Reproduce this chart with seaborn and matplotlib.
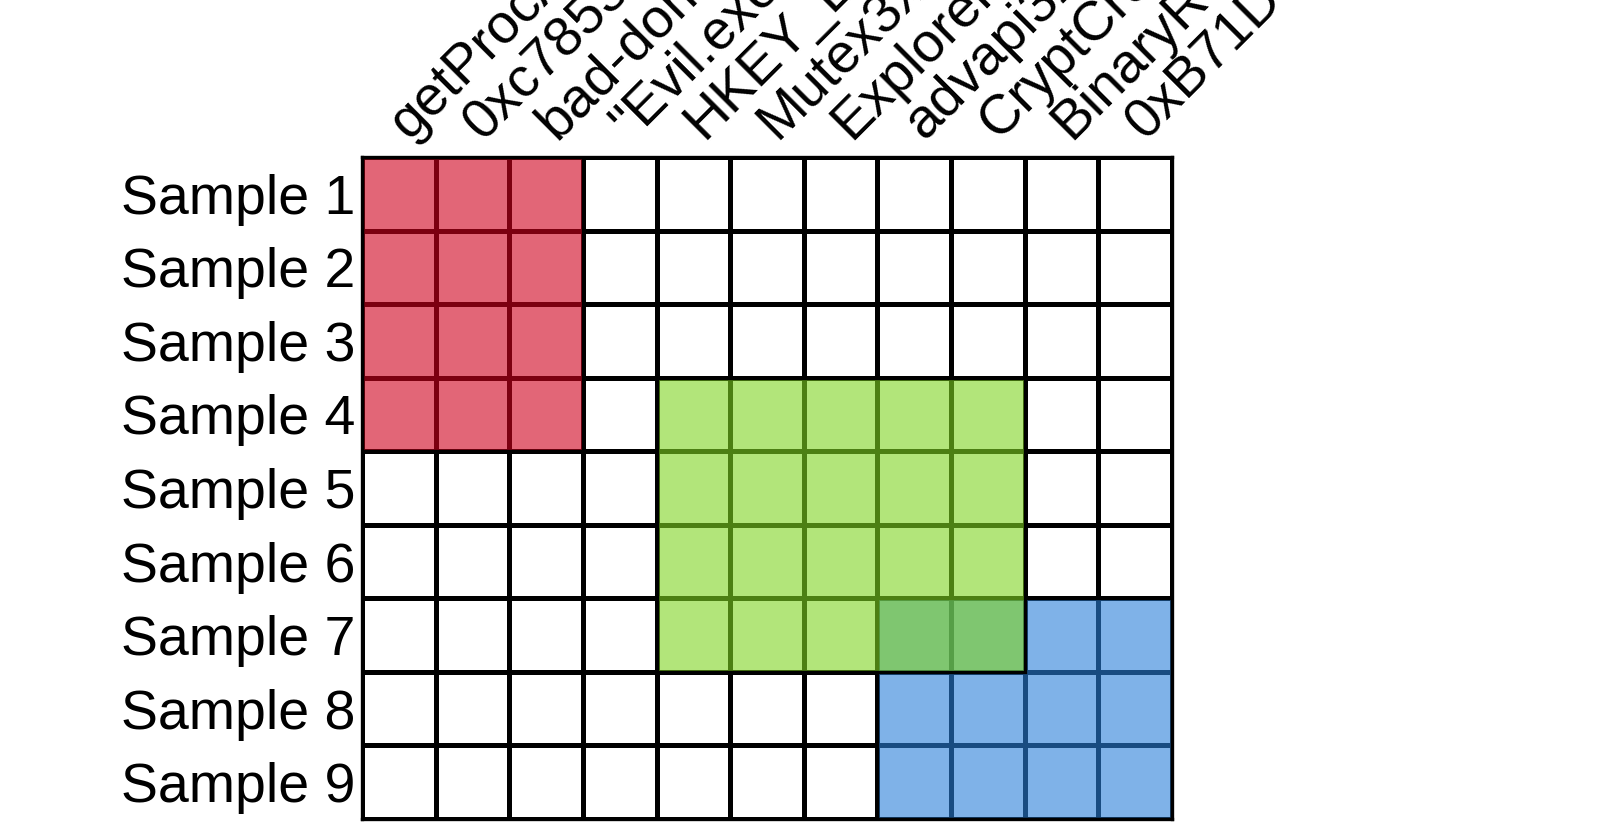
import numpy as np
import pandas as pd
import seaborn as sns
import matplotlib.pyplot as plt
from matplotlib.colors import to_rgb
from matplotlib.patches import Rectangle

# =========================================================
# DATA
# =========================================================

samples = [f"Sample {i}" for i in range(1, 10)]

features = [
    "getProcAddress",
    "0xc7853a2f",
    "bad-domain.com",
    "\"Evil.exe\"",
    "HKEY_LOCAL_MACHINE",
    "Mutex3xR9",
    "Explorer.exe",
    "advapi32.dll",
    "CryptCreateHash",
    "BinaryResource",
    "0xB71D9E42",
]

# clusters: (first sample, last sample), (first feature, last feature), 1-based
cluster_samples = [(1, 4), (7, 9), (4, 7)]
cluster_features = [(1, 3), (8, 11), (5, 9)]
cluster_colors = ["#D0001C", "#2A7FD9", "#7FD521"]

# =========================================================
# PLOT
# =========================================================

sns.set_theme(style="white")
plt.rcParams["font.family"] = ["Liberation Sans", "DejaVu Sans"]

grid = pd.DataFrame(
    np.zeros((len(samples), len(features))),
    index=samples,
    columns=features
)

fig = plt.figure(figsize=(16, 8.4), dpi=100)
ax = fig.add_axes([0.2263, 0.025, 0.5062, 0.788])

sns.heatmap(
    grid,
    cmap=["white"],
    cbar=False,
    linewidths=2.2,
    linecolor="black",
    ax=ax
)

for (s0, s1), (f0, f1), col in zip(cluster_samples, cluster_features, cluster_colors):
    ax.add_patch(
        Rectangle(
            (f0 - 1, s0 - 1),
            f1 - f0 + 1,
            s1 - s0 + 1,
            facecolor=(*to_rgb(col), 0.6),
            edgecolor="black",
            linewidth=2.4,
            zorder=3
        )
    )

for side in ["top", "bottom", "left", "right"]:
    ax.spines[side].set_visible(True)
    ax.spines[side].set_color("black")
    ax.spines[side].set_linewidth(2.4)
    ax.spines[side].set_zorder(4)

ax.xaxis.tick_top()
ax.set_xticklabels(
    features,
    rotation=45,
    ha="left",
    va="center",
    rotation_mode="anchor",
    fontsize=40,
    color="black"
)
ax.set_yticklabels(
    samples,
    rotation=0,
    va="center_baseline",
    fontsize=40,
    color="black"
)
ax.tick_params(axis="x", length=0, pad=19)
ax.tick_params(axis="y", length=0, pad=5)
ax.set_xlabel("")
ax.set_ylabel("")

fig.savefig("out.png", dpi=100)
